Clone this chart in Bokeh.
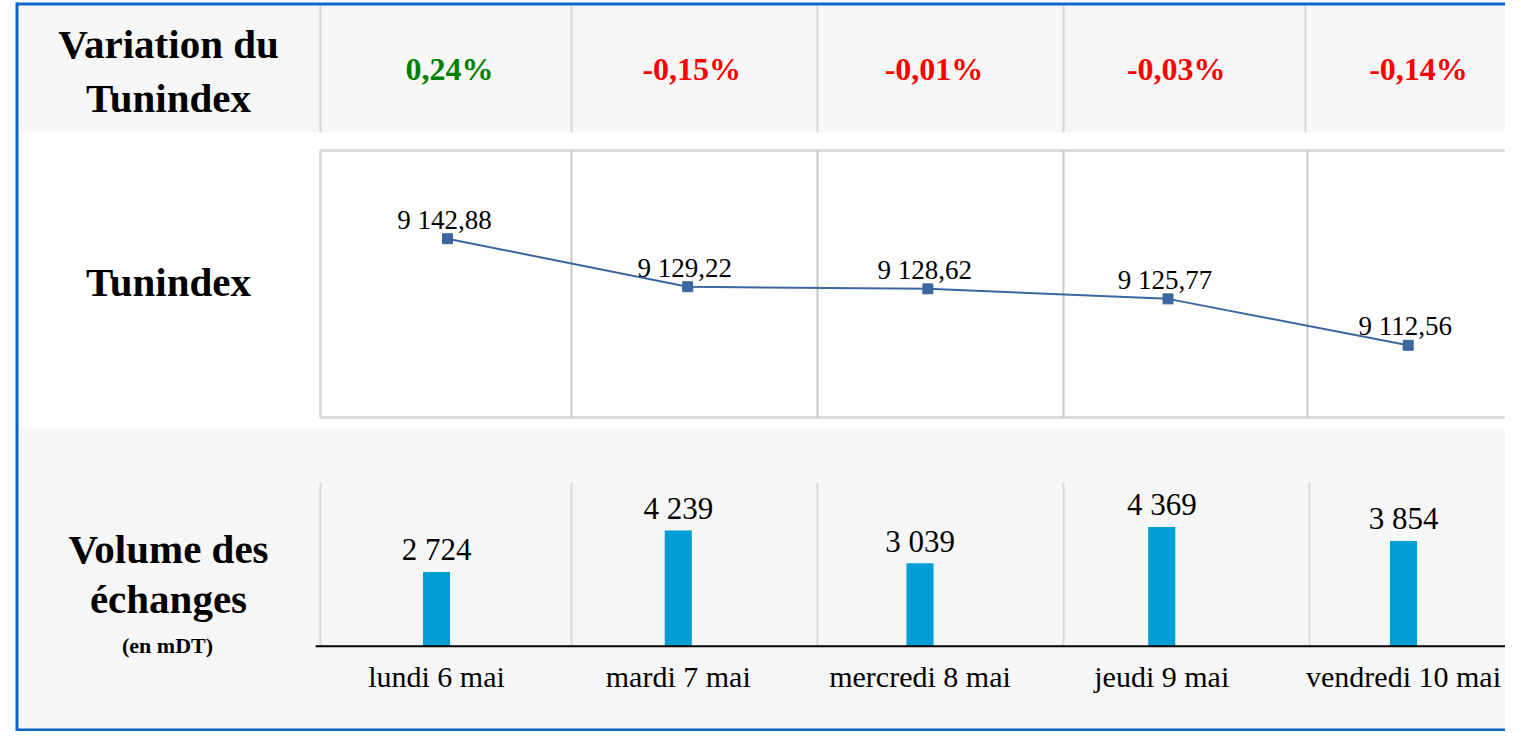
from bokeh.plotting import figure
from bokeh.models import Range1d
from bokeh.core.properties import value
from bokeh.embed import file_html
from bokeh.resources import INLINE

# ---------------- data ----------------
days = ["lundi 6 mai", "mardi 7 mai", "mercredi 8 mai", "jeudi 9 mai", "vendredi 10 mai"]
variation_pct = [0.24, -0.15, -0.01, -0.03, -0.14]
tunindex = [9142.88, 9129.22, 9128.62, 9125.77, 9112.56]
volume_mdt = [2724, 4239, 3039, 4369, 3854]
title_lines = ["Variation du", "Tunindex", "Tunindex", "Volume des", "échanges"]
unit_label = "(en mDT)"


def fr_num(v, dec):
    return f"{v:,.{dec}f}".replace(",", " ").replace(".", ",")


def fr_pct(v):
    return f"{v:.2f}".replace(".", ",") + "%"


idx = list(range(len(days)))
n = len(days)

# ---------------- layout (pixel coordinates) ----------------
W, H = 1505, 731
FX0, FX1 = 0, W
FY_TOP, FY_BOT = 0, H
SERIF = value("Liberation Serif")
BASE_K = 0.33   # renderer places alphabetic baseline slightly low; compensate


def lin_range(v_a, px_a, v_b, px_b, f_start, f_end):
    slope = (v_b - v_a) / (px_b - px_a)
    return Range1d(start=v_a + (f_start - px_a) * slope, end=v_a + (f_end - px_a) * slope)


p = figure(width=W, height=H, output_backend="svg", toolbar_location=None,
           x_range=Range1d(FX0, FX1), y_range=Range1d(FY_BOT, FY_TOP),
           x_axis_type=None, y_axis_type=None, min_border=0,
           outline_line_color=None, background_fill_color="white",
           border_fill_color="white")
p.grid.visible = False

# data scales placed inside the table cells
p.extra_x_ranges = {
    "hx": lin_range(0, 449, n - 1, 1418, FX0, FX1),     # header values
    "lx": lin_range(0, 447, n - 1, 1407.7, FX0, FX1),   # line chart
    "bx": lin_range(0, 436, n - 1, 1403, FX0, FX1),     # bar chart
}
p.extra_y_ranges = {
    "ly": lin_range(9092, 417, 9168, 150, FY_BOT, FY_TOP),
    "by": lin_range(0, 645.7, 6000, 482, FY_BOT, FY_TOP),
}

GREY_BG = "#F7F7F7"
# row backgrounds
p.quad(left=[18, 18], right=[FX1, FX1], top=[5, 428], bottom=[132, 729],
       fill_color=GREY_BG, line_color=None)

# header separators
hdr_sep = [320, 571, 817, 1063, 1305]
p.segment(x0=hdr_sep, x1=hdr_sep, y0=[5] * 5, y1=[132] * 5,
          line_color="#D6D6D6", line_width=2)

# line chart box
p.segment(x0=[320, 320, 320], x1=[FX1, FX1, 320], y0=[150, 417, 150], y1=[150, 417, 417],
          line_color="#DCDCDC", line_width=3)
mid_sep = [571, 817, 1063, 1307]
p.segment(x0=mid_sep, x1=mid_sep, y0=[150] * 4, y1=[417] * 4,
          line_color="#C8C8C8", line_width=2)

# bar area separators
bar_sep = [320, 571, 817, 1063, 1309]
p.segment(x0=bar_sep, x1=bar_sep, y0=[482] * 5, y1=[645] * 5,
          line_color="#DADADA", line_width=2)

# blue outer frame
BLUE = "#0B66CC"
p.segment(x0=[16.5, 16, 16], x1=[16.5, FX1, FX1], y0=[2, 3.5, 729.5], y1=[731, 3.5, 729.5],
          line_color=BLUE, line_width=3)

# ---------------- header values ----------------
pct_text = [fr_pct(v) for v in variation_pct]
pct_color = ["#008000" if v >= 0 else "#FF0000" for v in variation_pct]
p.text(x=idx, y=[79] * n, text=pct_text, text_color=pct_color, x_range_name="hx",
       y_offset=-BASE_K * 32, text_align="center", text_baseline="alphabetic",
       text_font=SERIF, text_font_size="32px", text_font_style="bold")

# ---------------- line chart ----------------
LINE_C = "#3B679E"
p.line(idx, tunindex, x_range_name="lx", y_range_name="ly", line_color=LINE_C, line_width=2)
p.scatter(idx, tunindex, x_range_name="lx", y_range_name="ly", marker="square", size=10,
          fill_color=LINE_C, line_color=LINE_C)
p.text(x=idx, y=tunindex, text=[fr_num(v, 2) for v in tunindex], x_range_name="lx",
       y_range_name="ly", x_offset=-3, y_offset=-10 - BASE_K * 27, text_align="center",
       text_baseline="alphabetic", text_font=SERIF, text_font_size="27px", text_color="black")

# ---------------- bar chart ----------------
p.vbar(x=idx, top=volume_mdt, bottom=0, width=0.112, x_range_name="bx", y_range_name="by",
       fill_color="#009ED6", line_color=None)
p.segment(x0=[-0.5], x1=[n - 0.5], y0=[0], y1=[0], x_range_name="bx", y_range_name="by",
          line_color="black", line_width=2)
p.text(x=idx, y=volume_mdt, text=[fr_num(v, 0) for v in volume_mdt], x_range_name="bx",
       y_range_name="by", y_offset=-12 - BASE_K * 31, text_align="center",
       text_baseline="alphabetic", text_font=SERIF, text_font_size="31px", text_color="black")
p.text(x=idx, y=[0] * n, text=days, x_range_name="bx", y_range_name="by",
       y_offset=40 - BASE_K * 30, text_align="center", text_baseline="alphabetic",
       text_font=SERIF, text_font_size="30px", text_color="black")

# ---------------- row titles ----------------
p.text(x=[168] * len(title_lines), y=[57, 111, 295, 562, 612], text=title_lines,
       y_offset=-BASE_K * 41, text_align="center", text_baseline="alphabetic",
       text_font=SERIF, text_font_size="41px", text_font_style="bold", text_color="black")
p.text(x=[167], y=[652], text=[unit_label], y_offset=-BASE_K * 22, text_align="center",
       text_baseline="alphabetic", text_font=SERIF, text_font_size="22px",
       text_font_style="bold", text_color="black")

open("out.html", "w").write(file_html(p, INLINE))
